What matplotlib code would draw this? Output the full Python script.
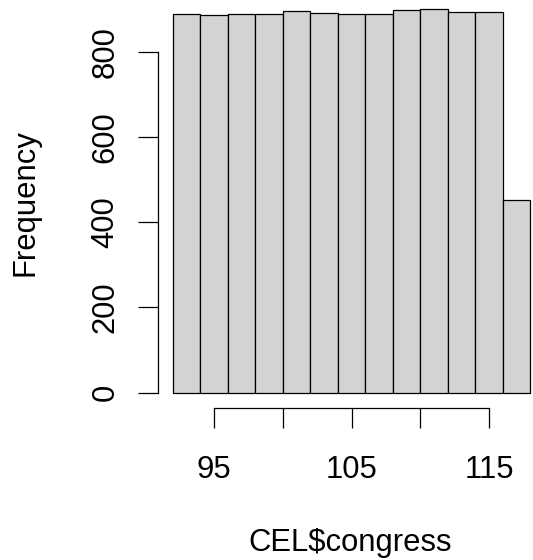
import matplotlib
matplotlib.use("Agg")
import matplotlib.pyplot as plt
import numpy as np

plt.rcParams['font.family'] = ['Liberation Sans', 'DejaVu Sans']

# histogram of CEL$congress, breaks every 2 congresses
breaks = np.arange(92, 120, 2)
counts = [889, 886, 890, 889, 897, 891, 890, 890, 898, 900, 894, 894, 452]
xticks = [95, 100, 105, 110, 115]
# R drops the labels that would overlap
xlabels = ['95', '', '105', '', '115']
yticks = [0, 200, 400, 600, 800]

W, H = 533, 560
fig = plt.figure(figsize=(W / 100, H / 100), dpi=100)
ax = fig.add_axes([158.4 / W, 152 / H, 386.2 / W, 414 / H])

ax.bar(breaks[:-1], counts, width=2, align='edge', color='#d3d3d3',
       edgecolor='black', linewidth=0.9, clip_on=False)

# R style axes with 4% padding
x_pad = 0.04 * (breaks[-1] - breaks[0])
y_pad = 0.04 * max(counts)
ax.set_xlim(breaks[0] - x_pad, breaks[-1] + x_pad)
ax.set_ylim(-y_pad, max(counts) + y_pad)

for s in ['top', 'right']:
    ax.spines[s].set_visible(False)
ax.spines['left'].set_bounds(yticks[0], yticks[-1])
ax.spines['bottom'].set_bounds(xticks[0], xticks[-1])
for s in ['left', 'bottom']:
    ax.spines[s].set_linewidth(0.9)

fs = 22.3
ax.set_xticks(xticks)
ax.set_xticklabels(xlabels)
ax.set_yticks(yticks)
ax.set_yticklabels([str(v) for v in yticks])
ax.tick_params(axis='both', length=14.4, width=0.9, labelsize=fs)
ax.tick_params(axis='x', pad=36)
ax.tick_params(axis='y', pad=17.8)
for lab in ax.get_xticklabels():
    lab.set_va('baseline')
for lab in ax.get_yticklabels():
    lab.set_rotation(90)
    lab.set_rotation_mode('anchor')
    lab.set_ha('center')
    lab.set_va('baseline')

fig.text(350.5 / W, 1 - 551.5 / H, 'CEL$congress', fontsize=fs,
         ha='center', va='baseline')
fig.text(33.3 / W, 1 - 203 / H, 'Frequency', fontsize=fs, rotation=90,
         rotation_mode='anchor', ha='center', va='baseline')

fig.savefig('out.png', dpi=100)
